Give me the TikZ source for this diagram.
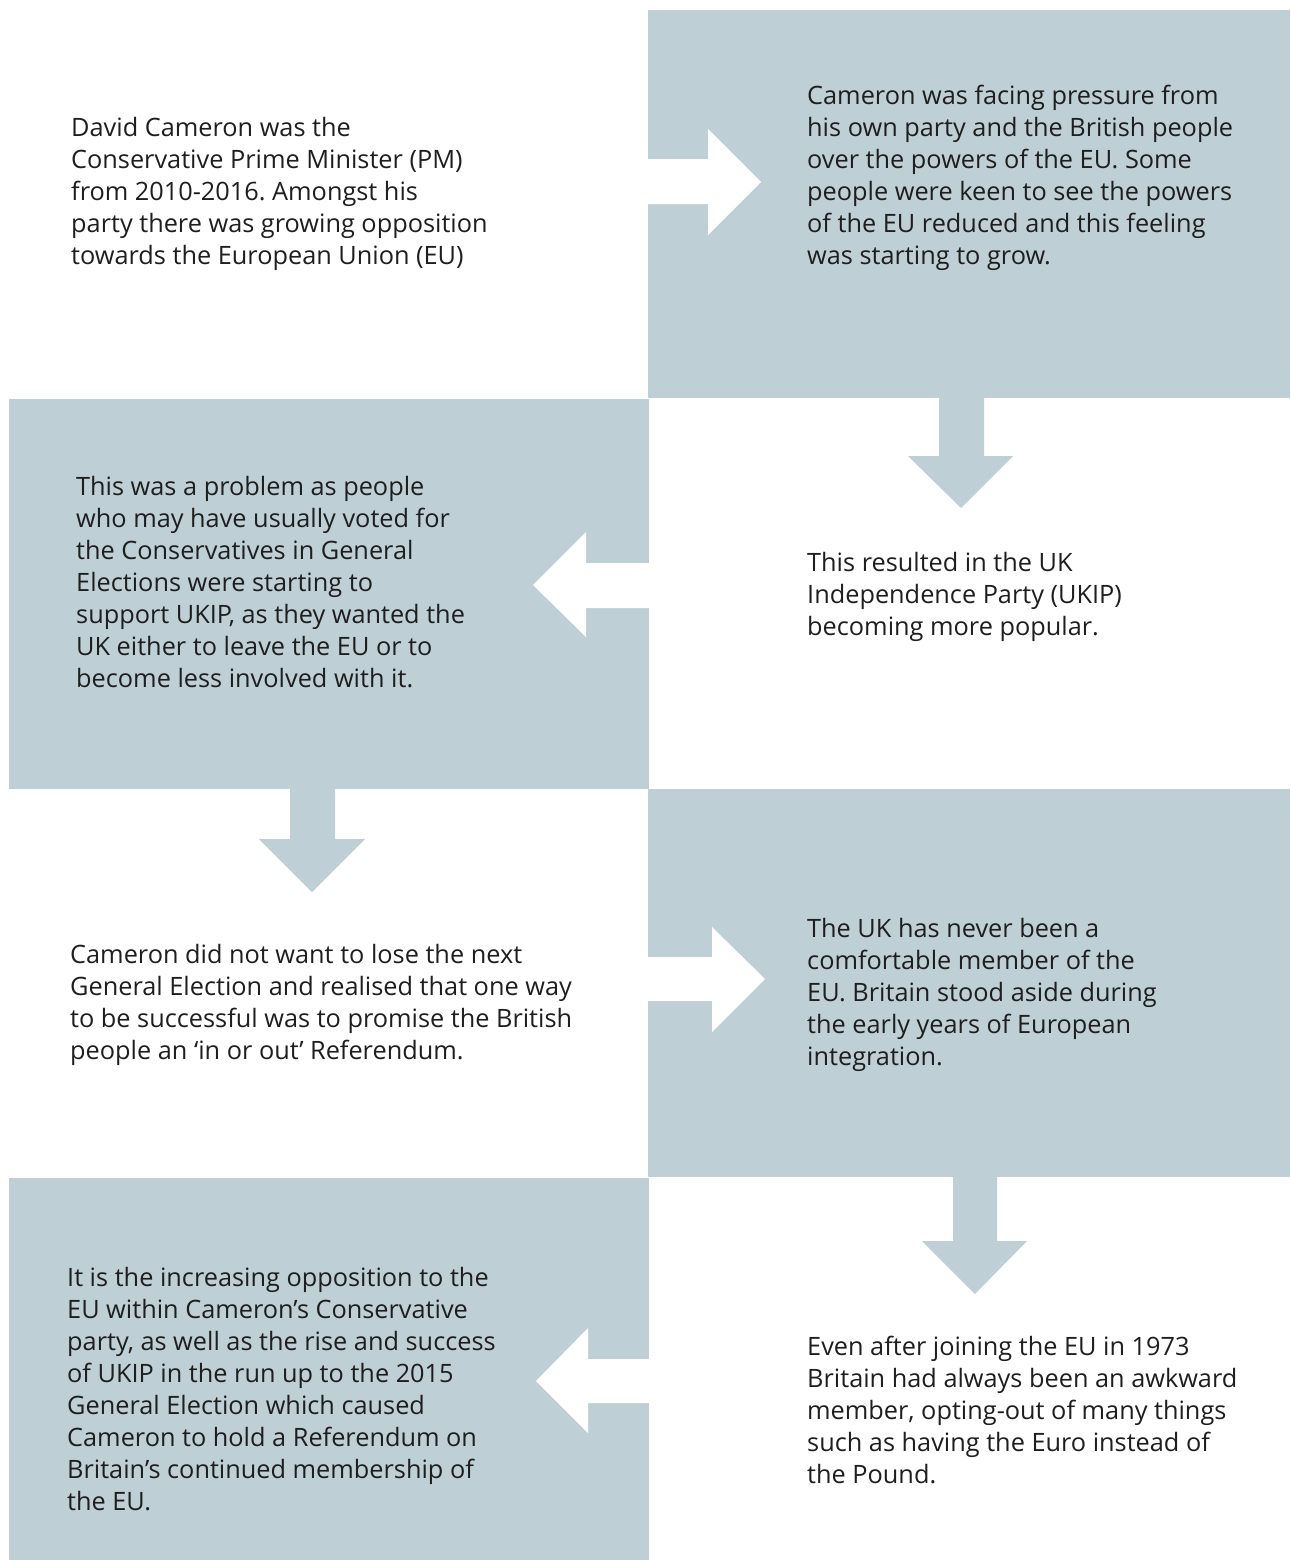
\documentclass[tikz,border=0pt]{standalone}
\usepackage{fontspec}
\setmainfont{Open Sans}
\usepackage{tikz}
\definecolor{boxgray}{RGB}{191,207,214}
\definecolor{inkgray}{RGB}{30,30,30}
\frenchspacing

\begin{document}
\begin{tikzpicture}[x=1pt,y=-1pt,
    words/.style={anchor=base west,inner sep=0pt,align=left,text=inkgray,
        font=\fontsize{25.3}{32}\selectfont}]
    \useasboundingbox (0,0) rectangle (1290,1560);

    % grey boxes
    \begin{scope}
        \fill[boxgray] (648,10) rectangle (1290,398);
        \fill[boxgray] (9,399) rectangle (649,789);
        \fill[boxgray] (648,789) rectangle (1290,1177);
        \fill[boxgray] (9,1178) rectangle (649,1560);
    \end{scope}

    % arrows
    \begin{scope}
        \fill[white] (648,159) -- (708,159) -- (708,129) -- (761,182) -- (708,235) -- (708,204) -- (648,204) -- cycle;
        \fill[boxgray] (939,398) -- (939,456) -- (908,456) -- (961,508) -- (1013,456) -- (984,456) -- (984,398) -- cycle;
        \fill[white] (649,563) -- (586,563) -- (586,532) -- (533,585) -- (586,637) -- (586,608) -- (649,608) -- cycle;
        \fill[boxgray] (290,789) -- (290,839) -- (259,839) -- (312,892) -- (365,839) -- (335,839) -- (335,789) -- cycle;
        \fill[white] (648,957) -- (712,957) -- (712,927) -- (765,979) -- (712,1032) -- (712,1001) -- (648,1001) -- cycle;
        \fill[boxgray] (953,1177) -- (953,1241) -- (922,1241) -- (975,1294) -- (1027,1241) -- (997,1241) -- (997,1177) -- cycle;
        \fill[white] (649,1359) -- (588,1359) -- (588,1328) -- (536,1381) -- (588,1433) -- (588,1403) -- (649,1403) -- cycle;
    \end{scope}

    % texts (anchored at the baseline of the last line)
    \begin{scope}[every node/.style={words}]
        \node (cameron) at (71,264) {David Cameron was the\\Conservative Prime Minister (PM)\\from 2010-2016. Amongst his\\party there was growing opposition\\towards the European Union (EU)};
        \node (pressure) at (807,264) {Cameron was facing pressure from\\his own party and the British people\\over the powers of the EU. Some\\people were keen to see the powers\\of the EU reduced and this feeling\\was starting to grow.};
        \node (problem) at (76,687) {This was a problem as people\\who may have usually voted for\\the Conservatives in General\\Elections were starting to\\support UKIP, as they wanted the\\UK either to leave the EU or to\\become less involved with it.};
        \node (ukip) at (807,635) {This resulted in the UK\\Independence Party (UKIP)\\becoming more popular.};
        \node (election) at (70,1059) {Cameron did not want to lose the next\\General Election and realised that one way\\to be successful was to promise the British\\people an ‘in or out’ Referendum.};
        \node (never) at (807,1065) {The UK has never been a\\comfortable member of the\\EU. Britain stood aside during\\the early years of European\\integration.};
        \node (referendum) at (67,1510) {It is the increasing opposition to the\\EU within Cameron’s Conservative\\party, as well as the rise and success\\of UKIP in the run up to the 2015\\General Election which caused\\Cameron to hold a Referendum on\\Britain’s continued membership of\\the EU.};
        \node (awkward) at (807,1483) {Even after joining the EU in 1973\\Britain had always been an awkward\\member, opting-out of many things\\such as having the Euro instead of\\the Pound.};
    \end{scope}
\end{tikzpicture}
\end{document}
